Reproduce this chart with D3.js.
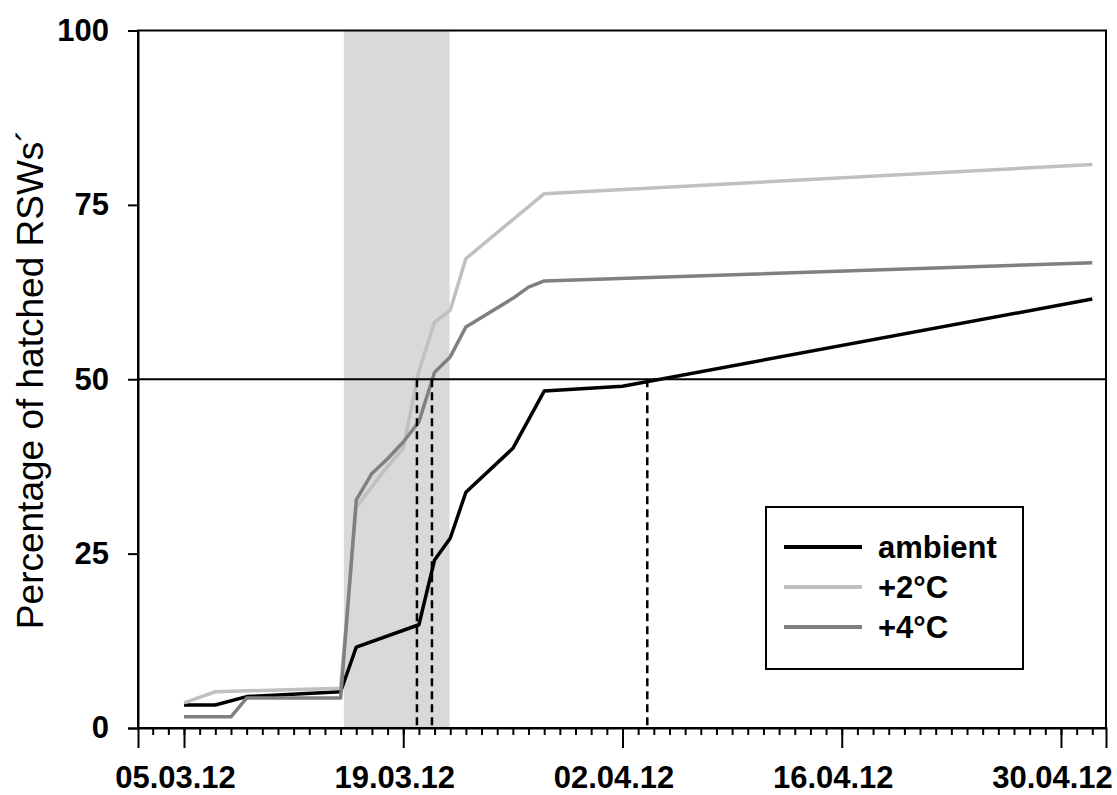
<!DOCTYPE html>
<html>
<head>
<meta charset="utf-8">
<script src="https://cdn.jsdelivr.net/npm/d3@7"></script>
<style>
  body { margin: 0; background: #fff; }
  svg { display: block; font-family: "Liberation Sans", Arial, sans-serif; }
</style>
</head>
<body>
<div id="chart"></div>
<script>
// sample dates (day of sampling)
const sampleDates = ['2012-03-05', '2012-03-07', '2012-03-08', '2012-03-09', '2012-03-15',
  '2012-03-16', '2012-03-17', '2012-03-18', '2012-03-19', '2012-03-20', '2012-03-21',
  '2012-03-22', '2012-03-23', '2012-03-26', '2012-03-27', '2012-03-28', '2012-04-02', '2012-05-02'];

// percentage of hatched RSWs, null = not read for that series
const ambient = [3.3, 3.3, null, 4.5, 5.2, 11.6, null, null, null, 14.8, 24.1,
  27.2, 33.8, 40.1, null, 48.3, 49.0, 61.5];
const plus2 = [3.6, 5.2, null, null, 5.7, 31.7, 34.6, 37.5, 40.1, 51.2, 58.2,
  59.9, 67.3, null, null, 76.6, null, 80.8];
const plus4 = [1.6, null, 1.6, 4.3, 4.3, 32.7, 36.5, 38.6, 41.0, 43.9, 51.0,
  53.2, 57.5, 61.6, 63.2, 64.1, null, 66.7];

const seriesNames = ['ambient', '+2°C', '+4°C'];
const seriesColors = ['#000000', '#c0c0c0', '#808080'];

// dates where each series reaches 50 %
const halfDates = ['2012-03-19T21:00', '2012-03-20T20:00', '2012-04-03T14:00'];
const halfLevel = 50;

// shaded period
const shadeStart = '2012-03-15T05:00';
const shadeEnd = '2012-03-21T23:00';

const xDomain = ['2012-03-02T01:30', '2012-05-02T21:00'];
const xTickDates = ['2012-03-05', '2012-03-19', '2012-04-02', '2012-04-16', '2012-04-30'];
const yTicks = [0, 25, 50, 75, 100];

const parse = s => new Date(s + (s.length === 10 ? 'T00:00Z' : 'Z'));

// setup
const width = 1117, height = 795;
const margin = {top: 30.5, right: 11, bottom: 67, left: 138};

const svg = d3.select('#chart').append('svg')
  .attr('width', width)
  .attr('height', height);

const x = d3.scaleUtc()
  .domain(xDomain.map(parse))
  .range([margin.left, width - margin.right]);
const y = d3.scaleLinear()
  .domain([0, 100])
  .range([height - margin.bottom, margin.top]);

// shaded band
svg.append('rect')
  .attr('x', x(parse(shadeStart)))
  .attr('y', y(100))
  .attr('width', x(parse(shadeEnd)) - x(parse(shadeStart)))
  .attr('height', y(0) - y(100))
  .attr('fill', '#d9d9d9');

// series lines
const series = [ambient, plus2, plus4].map((vals, i) => ({
  name: seriesNames[i],
  color: seriesColors[i],
  points: vals.map((v, j) => ({ date: parse(sampleDates[j]), v: v })).filter(d => d.v !== null)
}));

const line = d3.line()
  .x(d => x(d.date))
  .y(d => y(d.v));

svg.append('g').selectAll('path').data(series).enter()
  .append('path')
  .attr('d', d => line(d.points))
  .attr('fill', 'none')
  .attr('stroke', d => d.color)
  .attr('stroke-width', 3.5)
  .attr('stroke-linejoin', 'round');

// 50 % line
svg.append('line')
  .attr('x1', x.range()[0])
  .attr('x2', x.range()[1])
  .attr('y1', y(halfLevel))
  .attr('y2', y(halfLevel))
  .attr('stroke', '#000')
  .attr('stroke-width', 2);

// dashed drop lines
svg.append('g').selectAll('line').data(halfDates).enter()
  .append('line')
  .attr('x1', d => x(parse(d)))
  .attr('x2', d => x(parse(d)))
  .attr('y1', y(halfLevel))
  .attr('y2', y(0))
  .attr('stroke', '#000')
  .attr('stroke-width', 2.5)
  .attr('stroke-dasharray', '8,5');

// frame
svg.append('rect')
  .attr('x', x.range()[0])
  .attr('y', y(100))
  .attr('width', x.range()[1] - x.range()[0])
  .attr('height', y(0) - y(100))
  .attr('fill', 'none')
  .attr('stroke', '#000')
  .attr('stroke-width', 2);

// x axis minor ticks (daily)
svg.append('g')
  .attr('transform', `translate(0,${y(0)})`)
  .call(d3.axisBottom(x).ticks(d3.utcDay.every(1)).tickSize(7).tickFormat(''))
  .call(g => g.select('.domain').remove())
  .call(g => g.selectAll('line').attr('stroke-width', 2));

// x axis major ticks
svg.append('g')
  .attr('transform', `translate(0,${y(0)})`)
  .call(d3.axisBottom(x)
    .tickValues(xTickDates.map(parse))
    .tickSize(20)
    .tickPadding(18)
    .tickFormat(d3.utcFormat('%d.%m.%y')))
  .call(g => g.select('.domain').attr('stroke-width', 2))
  .call(g => g.selectAll('line').attr('stroke-width', 2))
  .call(g => g.selectAll('text')
    .attr('dx', -9)
    .style('font-size', '31px')
    .style('font-weight', 'bold')
    .attr('fill', '#000'));

// y axis
svg.append('g')
  .attr('transform', `translate(${x.range()[0]},0)`)
  .call(d3.axisLeft(y).tickValues(yTicks).tickSize(10).tickPadding(19))
  .call(g => g.select('.domain').attr('stroke-width', 2))
  .call(g => g.selectAll('line').attr('stroke-width', 2))
  .call(g => g.selectAll('text')
    .style('font-size', '31px')
    .style('font-weight', 'bold')
    .attr('fill', '#000'));

// y axis title
svg.append('text')
  .attr('transform', `translate(43,${(y(0) + y(100)) / 2}) rotate(-90)`)
  .attr('text-anchor', 'middle')
  .style('font-size', '37px')
  .text('Percentage of hatched RSWs´');

// legend
const legend = svg.append('g').attr('transform', 'translate(766,507)');
legend.append('rect')
  .attr('width', 257)
  .attr('height', 162)
  .attr('fill', '#fff')
  .attr('stroke', '#000')
  .attr('stroke-width', 2);
const items = legend.selectAll('.item').data(series).enter()
  .append('g')
  .attr('transform', (d, i) => `translate(0,${40 + i * 40})`);
items.append('line')
  .attr('x1', 18)
  .attr('x2', 96)
  .attr('stroke', d => d.color)
  .attr('stroke-width', 4);
items.append('text')
  .attr('x', 112)
  .attr('dy', '0.35em')
  .style('font-size', '31px')
  .style('font-weight', 'bold')
  .text(d => d.name);
</script>
</body>
</html>
